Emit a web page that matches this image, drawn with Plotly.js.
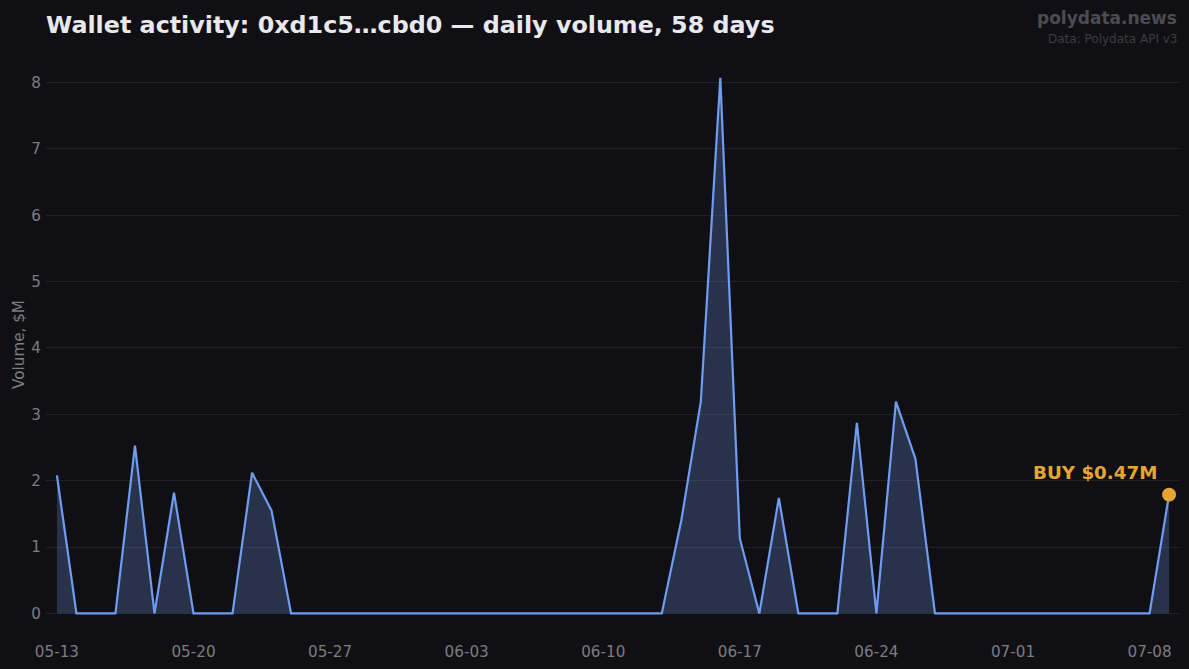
<!DOCTYPE html>
<html>
<head>
<meta charset="utf-8">
<script src="https://cdn.plot.ly/plotly-3.0.1.min.js"></script>
<style>
html, body { margin: 0; padding: 0; background: #101014; overflow: hidden; }
</style>
</head>
<body>
<div id="chart" style="width:1189px;height:669px"></div>
<script>
const days = [
    '05-13', '05-14', '05-15', '05-16', '05-17', '05-18', '05-19', '05-20', '05-21', '05-22',
    '05-23', '05-24', '05-25', '05-26', '05-27', '05-28', '05-29', '05-30', '05-31', '06-01',
    '06-02', '06-03', '06-04', '06-05', '06-06', '06-07', '06-08', '06-09', '06-10', '06-11',
    '06-12', '06-13', '06-14', '06-15', '06-16', '06-17', '06-18', '06-19', '06-20', '06-21',
    '06-22', '06-23', '06-24', '06-25', '06-26', '06-27', '06-28', '06-29', '06-30', '07-01',
    '07-02', '07-03', '07-04', '07-05', '07-06', '07-07', '07-08', '07-09'
]
const volume = [
    2.08, 0, 0, 0, 2.53, 0, 1.82, 0, 0, 0,
    2.12, 1.55, 0, 0, 0, 0, 0, 0, 0, 0,
    0, 0, 0, 0, 0, 0, 0, 0, 0, 0,
    0, 0, 1.40, 3.19, 8.07, 1.13, 0, 1.74, 0, 0,
    0, 2.87, 0, 3.19, 2.33, 0, 0, 0, 0, 0,
    0, 0, 0, 0, 0, 0, 0, 1.79
]
const xTicks = ['05-13', '05-20', '05-27', '06-03', '06-10', '06-17', '06-24', '07-01', '07-08']
const yTicks = [0, 1, 2, 3, 4, 5, 6, 7, 8]
const lastDay = [days[days.length - 1]]
const lastVolume = [volume[volume.length - 1]]

const bg = '#101014'
const font = 'DejaVu Sans, sans-serif'
const gray = '#7c7c81'

// plot area in window pixels, the notes above it are placed from these
const plotLeft = 46, plotRight = 1180, plotTop = 49, plotBottom = 640
const paperX = px => (px - plotLeft) / (plotRight - plotLeft)
const paperY = py => (plotBottom - py) / (plotBottom - plotTop)

const data = [
    {
        x: days,
        y: volume,
        type: 'scatter',
        mode: 'lines',
        fill: 'tozeroy',
        fillcolor: 'rgba(110,155,240,0.25)',
        line: { color: '#6f9cf0', width: 2.2 },
        hoverinfo: 'skip',
    },
    {
        x: lastDay,
        y: lastVolume,
        type: 'scatter',
        mode: 'markers',
        marker: { color: '#e5a535', size: 14 },
        hoverinfo: 'skip',
    },
]

const layout = {
    width: 1189,
    height: 669,
    paper_bgcolor: bg,
    plot_bgcolor: bg,
    showlegend: false,
    margin: { l: plotLeft, r: 1189 - plotRight, t: plotTop, b: 669 - plotBottom },
    font: { family: font, color: gray, size: 15.2 },
    title: {
        text: '<b>Wallet activity: 0xd1c5…cbd0 — daily volume, 58 days</b>',
        font: { family: font, size: 23.8, color: '#e8e8ee' },
        x: 0,
        xanchor: 'left',
        xref: 'paper',
        y: 1 - 25 / 669,
        yanchor: 'middle',
    },
    xaxis: {
        type: 'category',
        categoryorder: 'array',
        categoryarray: days,
        range: [-0.56, 57.56],
        tickmode: 'array',
        tickvals: xTicks,
        ticktext: xTicks,
        showgrid: false,
        zeroline: false,
        showline: false,
        ticks: '',
        ticklabelstandoff: 1,
        tickfont: { family: font, size: 15.2, color: gray },
    },
    yaxis: {
        range: [-0.4, 8.504],
        tickmode: 'array',
        tickvals: yTicks,
        showgrid: true,
        gridcolor: '#212126',
        gridwidth: 1,
        zeroline: false,
        showline: false,
        ticks: '',
        ticklabelstandoff: 4,
        tickfont: { family: font, size: 15.2, color: gray },
        title: {
            text: 'Volume, $M',
            font: { family: font, size: 15.2, color: gray },
            standoff: 3,
        },
    },
    annotations: [
        {
            xref: 'x',
            yref: 'y',
            x: lastDay[0],
            y: lastVolume[0],
            xanchor: 'right',
            yanchor: 'middle',
            xshift: -10.5,
            yshift: 22.5,
            showarrow: false,
            text: '<b>BUY $0.47M</b>',
            font: { family: font, size: 18.3, color: '#e5a535' },
        },
        {
            xref: 'paper',
            yref: 'paper',
            x: paperX(1179),
            y: paperY(17.5),
            xanchor: 'right',
            yanchor: 'middle',
            showarrow: false,
            text: '<b>polydata.news</b>',
            font: { family: font, size: 17, color: '#4b4b52' },
        },
        {
            xref: 'paper',
            yref: 'paper',
            x: paperX(1179),
            y: paperY(39),
            xanchor: 'right',
            yanchor: 'middle',
            showarrow: false,
            text: 'Data: Polydata API v3',
            font: { family: font, size: 12, color: '#3b3b42' },
        },
    ],
}

Plotly.newPlot('chart', data, layout, { displayModeBar: false, responsive: false })
</script>
</body>
</html>
